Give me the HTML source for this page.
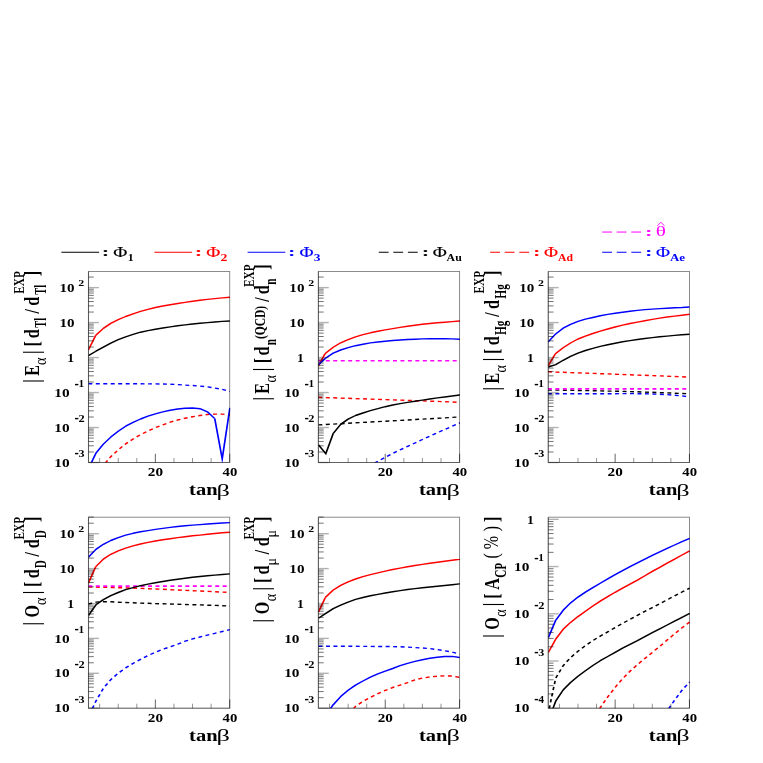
<!DOCTYPE html>
<html><head><meta charset="utf-8"><title>EDM observables vs tan beta</title>
<style>html,body{margin:0;padding:0;background:#fff;}svg{display:block;filter:blur(0.35px);}</style>
</head><body>
<svg width="763" height="763" viewBox="0 0 763 763" font-family="'Liberation Serif', serif">
<rect width="763" height="763" fill="#fff"/>
<clipPath id="c1"><rect x="88.50" y="271.50" width="141.80" height="191.00"/></clipPath>
<g clip-path="url(#c1)"><g transform="scale(1.20 1)">
<path d="M73.62 383.8 L79.94 383.8 L86.14 383.8 L92.33 383.8 L98.52 383.8 L104.71 383.8 L110.91 383.8 L117.10 383.8 L123.29 383.9 L129.49 383.9 L135.68 384.0 L141.87 384.2 L148.07 384.6 L154.26 385.1 L160.45 385.5 L166.64 386.1 L172.84 386.9 L179.03 388.1 L185.22 389.4 L191.57 391.5" fill="none" stroke="#0000ff" stroke-width="1.40" stroke-dasharray="3.3 2.92" stroke-linejoin="round"/>
<path d="M87.71 463.2 L92.33 456.7 L98.52 449.9 L104.71 443.9 L110.91 439.0 L117.10 434.7 L123.29 431.0 L129.49 427.7 L135.68 424.8 L141.87 422.1 L148.07 420.0 L154.26 418.2 L160.45 416.7 L166.64 415.5 L172.84 414.5 L179.03 414.1 L185.22 414.1 L191.57 415.2" fill="none" stroke="#ff0000" stroke-width="1.40" stroke-dasharray="3.3 2.92" stroke-linejoin="round"/>
<path d="M73.62 355.6 L79.94 351.2 L86.14 347.1 L92.33 343.1 L98.52 339.7 L104.71 336.8 L110.91 334.4 L117.10 332.2 L123.29 330.6 L129.49 329.2 L135.68 328.0 L141.87 326.9 L148.07 325.8 L154.26 324.9 L160.45 324.0 L166.64 323.2 L172.84 322.6 L179.03 322.0 L185.22 321.4 L191.57 321.0" fill="none" stroke="#000000" stroke-width="1.40" stroke-linejoin="round"/>
<path d="M73.62 350.1 L79.84 335.3" fill="none" stroke="#ff0000" stroke-width="1.40" stroke-linejoin="miter" stroke-miterlimit="20"/>
<path d="M79.84 335.3 L86.14 328.4 L92.33 323.4 L98.52 319.7 L104.71 316.5 L110.91 313.8 L117.10 311.4 L123.29 309.3 L129.49 307.5 L135.68 306.0 L141.87 304.7 L148.07 303.5 L154.26 302.4 L160.45 301.3 L166.64 300.3 L172.84 299.4 L179.03 298.6 L185.22 297.9 L191.57 297.2" fill="none" stroke="#ff0000" stroke-width="1.40" stroke-linejoin="round"/>
<path d="M75.75 463.6 L79.94 453.2 L86.14 444.1 L92.33 437.1 L98.52 431.2 L104.71 426.2 L110.91 422.4 L117.10 419.0 L123.29 416.1 L129.49 413.8 L135.68 411.9 L141.87 410.3 L148.07 409.0 L154.26 408.2 L160.45 408.0 L166.64 408.7 L172.84 411.8 L178.96 418.6" fill="none" stroke="#0000ff" stroke-width="1.40" stroke-linejoin="round"/>
<path d="M178.96 418.6 L185.18 458.9 L191.57 407.8" fill="none" stroke="#0000ff" stroke-width="1.40" stroke-linejoin="miter" stroke-miterlimit="20"/>
</g></g>
<clipPath id="c2"><rect x="318.38" y="271.50" width="141.80" height="191.00"/></clipPath>
<g clip-path="url(#c2)"><g transform="scale(1.20 1)">
<path d="M265.29 360.7 L383.24 360.7" fill="none" stroke="#ff00ff" stroke-width="1.40" stroke-dasharray="3.3 2.92" stroke-linejoin="miter" stroke-miterlimit="20"/>
<path d="M265.29 397.3 L271.51 397.6 L277.70 397.8 L283.90 398.1 L290.09 398.3 L296.28 398.6 L302.47 398.8 L308.67 399.1 L314.86 399.4 L321.05 399.6 L327.25 399.9 L333.44 400.1 L339.63 400.4 L345.83 400.7 L352.02 400.9 L358.21 401.2 L364.40 401.4 L370.60 401.7 L376.79 402.0 L382.98 402.3 L383.24 402.3" fill="none" stroke="#ff0000" stroke-width="1.40" stroke-dasharray="3.3 2.92" stroke-linejoin="round"/>
<path d="M265.29 424.9 L271.51 424.5 L277.70 424.1 L283.90 423.7 L290.09 423.3 L296.28 422.8 L302.47 422.4 L308.67 422.0 L314.86 421.6 L321.05 421.2 L327.25 420.8 L333.44 420.4 L339.63 420.0 L345.83 419.5 L352.02 419.1 L358.21 418.7 L364.40 418.3 L370.60 417.9 L376.79 417.4 L382.98 417.0 L383.24 417.0" fill="none" stroke="#000000" stroke-width="1.40" stroke-dasharray="3.3 2.92" stroke-linejoin="round"/>
<path d="M312.14 463.2 L314.86 461.4 L321.05 457.3 L327.25 453.5 L333.44 449.8 L339.63 446.4 L345.83 443.0 L352.02 439.5 L358.21 436.1 L364.40 432.8 L370.60 429.5 L376.79 426.3 L382.98 423.0 L383.24 422.9" fill="none" stroke="#0000ff" stroke-width="1.40" stroke-dasharray="3.3 2.92" stroke-linejoin="round"/>
<path d="M265.29 444.7 L271.51 453.6 L277.74 433.3" fill="none" stroke="#000000" stroke-width="1.40" stroke-linejoin="miter" stroke-miterlimit="20"/>
<path d="M277.74 433.3 L283.90 424.4 L290.09 419.1 L296.28 415.5 L302.47 413.0 L308.67 410.7 L314.86 408.7 L321.05 406.7 L327.25 405.0 L333.44 403.6 L339.63 402.4 L345.83 401.2 L352.02 400.1 L358.21 399.0 L364.40 397.9 L370.60 397.0 L376.79 396.0 L382.98 395.0 L383.24 395.0" fill="none" stroke="#000000" stroke-width="1.40" stroke-linejoin="round"/>
<path d="M265.29 366.2 L270.69 354.0" fill="none" stroke="#ff0000" stroke-width="1.40" stroke-linejoin="miter" stroke-miterlimit="20"/>
<path d="M270.69 354.0 L271.51 353.1 L277.70 347.2 L283.90 342.8 L290.09 339.6 L296.28 336.8 L302.47 334.7 L308.67 332.8 L314.86 331.2 L321.05 329.9 L327.25 328.6 L333.44 327.4 L339.63 326.3 L345.83 325.3 L352.02 324.3 L358.21 323.5 L364.40 322.8 L370.60 322.2 L376.79 321.6 L382.98 321.0 L383.24 321.0" fill="none" stroke="#ff0000" stroke-width="1.40" stroke-linejoin="round"/>
<path d="M265.29 364.8 L271.51 358.0 L277.70 353.1 L283.90 350.0 L290.09 347.7 L296.28 345.7 L302.47 344.2 L308.67 342.9 L314.86 342.0 L321.05 341.2 L327.25 340.5 L333.44 340.0 L339.63 339.5 L345.83 339.2 L352.02 338.9 L358.21 338.7 L364.40 338.7 L370.60 338.7 L376.79 338.9 L382.98 339.3 L383.24 339.3" fill="none" stroke="#0000ff" stroke-width="1.40" stroke-linejoin="round"/>
</g></g>
<clipPath id="c3"><rect x="548.26" y="271.50" width="141.80" height="191.00"/></clipPath>
<g clip-path="url(#c3)"><g transform="scale(1.20 1)">
<path d="M456.62 371.8 L456.88 371.8 L463.08 372.1 L469.27 372.3 L475.46 372.6 L481.66 372.9 L487.85 373.1 L494.04 373.4 L500.23 373.7 L506.43 373.9 L512.62 374.2 L518.81 374.5 L525.01 374.8 L531.20 375.1 L537.39 375.3 L543.59 375.6 L549.78 375.9 L555.97 376.2 L562.16 376.5 L568.36 376.8 L574.58 377.1" fill="none" stroke="#ff0000" stroke-width="1.40" stroke-dasharray="3.3 2.92" stroke-linejoin="round"/>
<path d="M456.62 393.8 L456.88 393.8 L463.08 393.8 L469.27 393.8 L475.46 393.8 L481.66 393.8 L487.85 393.8 L494.04 393.8 L500.23 393.8 L506.43 393.8 L512.62 393.7 L518.81 393.6 L525.01 393.6 L531.20 393.7 L537.39 393.8 L543.59 394.0 L549.78 394.3 L555.97 394.6 L562.16 395.2 L568.36 395.9 L574.58 396.9" fill="none" stroke="#0000ff" stroke-width="1.40" stroke-dasharray="3.3 2.92" stroke-linejoin="round"/>
<path d="M456.62 390.1 L456.88 390.1 L463.08 390.1 L469.27 390.2 L475.46 390.3 L481.66 390.5 L487.85 390.6 L494.04 390.7 L500.23 390.9 L506.43 391.1 L512.62 391.2 L518.81 391.4 L525.01 391.6 L531.20 391.8 L537.39 392.1 L543.59 392.3 L549.78 392.6 L555.97 392.9 L562.16 393.2 L568.36 393.5 L574.58 393.8" fill="none" stroke="#000000" stroke-width="1.40" stroke-dasharray="3.3 2.92" stroke-linejoin="round"/>
<path d="M456.62 388.9 L574.58 388.9" fill="none" stroke="#ff00ff" stroke-width="1.70" stroke-dasharray="3.3 2.92" stroke-linejoin="miter" stroke-miterlimit="20"/>
<path d="M456.62 367.2 L456.88 367.1 L463.08 364.6 L469.27 360.3 L475.46 356.4 L481.66 353.2 L487.85 350.5 L494.04 348.3 L500.23 346.4 L506.43 344.7 L512.62 343.2 L518.81 341.8 L525.01 340.6 L531.20 339.5 L537.39 338.5 L543.59 337.6 L549.78 336.8 L555.97 336.1 L562.16 335.4 L568.36 334.8 L574.58 334.2" fill="none" stroke="#000000" stroke-width="1.40" stroke-linejoin="round"/>
<path d="M456.62 366.2 L462.69 354.0" fill="none" stroke="#ff0000" stroke-width="1.40" stroke-linejoin="miter" stroke-miterlimit="20"/>
<path d="M462.69 354.0 L463.08 353.6 L469.27 347.8 L475.46 343.0 L481.66 339.0 L487.85 336.1 L494.04 333.5 L500.23 331.1 L506.43 329.0 L512.62 327.0 L518.81 325.2 L525.01 323.5 L531.20 322.1 L537.39 320.7 L543.59 319.4 L549.78 318.1 L555.97 317.0 L562.16 316.1 L568.36 315.2 L574.58 314.3" fill="none" stroke="#ff0000" stroke-width="1.40" stroke-linejoin="round"/>
<path d="M456.62 342.2 L456.88 341.8 L463.08 333.9 L469.27 328.2 L475.46 324.4 L481.66 321.4 L487.85 319.1 L494.04 317.5 L500.23 315.8 L506.43 314.4 L512.62 313.3 L518.81 312.3 L525.01 311.3 L531.20 310.4 L537.39 309.6 L543.59 309.1 L549.78 308.6 L555.97 308.2 L562.16 307.8 L568.36 307.5 L574.58 307.0" fill="none" stroke="#0000ff" stroke-width="1.40" stroke-linejoin="round"/>
</g></g>
<clipPath id="c4"><rect x="88.50" y="517.20" width="141.80" height="191.00"/></clipPath>
<g clip-path="url(#c4)"><g transform="scale(1.20 1)">
<path d="M73.62 586.9 L79.94 587.1 L86.14 587.3 L92.33 587.5 L98.52 587.7 L104.71 587.9 L110.91 588.1 L117.10 588.4 L123.29 588.7 L129.49 589.0 L135.68 589.3 L141.87 589.7 L148.07 590.0 L154.26 590.4 L160.45 590.7 L166.64 591.0 L172.84 591.4 L179.03 591.7 L185.22 592.1 L191.57 592.4" fill="none" stroke="#ff0000" stroke-width="1.40" stroke-dasharray="3.3 2.92" stroke-linejoin="round"/>
<path d="M73.62 586.2 L191.57 586.2" fill="none" stroke="#ff00ff" stroke-width="1.80" stroke-dasharray="3.3 2.92" stroke-linejoin="miter" stroke-miterlimit="20"/>
<path d="M73.62 604.0 L79.94 602.1 L86.14 601.7 L92.33 601.8 L98.52 602.2 L104.71 602.5 L110.91 602.8 L117.10 603.1 L123.29 603.3 L129.49 603.6 L135.68 603.8 L141.87 604.0 L148.07 604.3 L154.26 604.5 L160.45 604.7 L166.64 604.9 L172.84 605.2 L179.03 605.4 L185.22 605.7 L191.57 606.0" fill="none" stroke="#000000" stroke-width="1.40" stroke-dasharray="3.3 2.92" stroke-linejoin="round"/>
<path d="M77.00 708.6 L79.94 701.1 L86.14 688.3 L92.33 679.7 L98.52 673.2 L104.71 667.9 L110.91 663.4 L117.10 659.3 L123.29 655.6 L129.49 652.3 L135.68 649.3 L141.87 646.8 L148.07 644.2 L154.26 641.2 L160.45 638.9 L166.64 637.0 L172.84 635.1 L179.03 633.3 L185.22 631.5 L191.58 629.6" fill="none" stroke="#0000ff" stroke-width="1.40" stroke-dasharray="3.3 2.92" stroke-linejoin="round"/>
<path d="M73.62 615.7 L79.94 604.8 L86.14 599.6 L92.33 595.6 L98.52 592.5 L104.71 589.7 L110.91 587.7 L117.10 585.7 L123.29 584.1 L129.49 582.7 L135.68 581.5 L141.87 580.3 L148.07 579.2 L154.26 578.2 L160.45 577.3 L166.64 576.5 L172.84 575.8 L179.03 575.1 L185.22 574.5 L191.57 573.9" fill="none" stroke="#000000" stroke-width="1.40" stroke-linejoin="round"/>
<path d="M73.62 583.3 L79.84 566.6" fill="none" stroke="#ff0000" stroke-width="1.40" stroke-linejoin="miter" stroke-miterlimit="20"/>
<path d="M79.84 566.6 L86.14 559.1 L92.33 554.3 L98.52 550.8 L104.71 548.2 L110.91 545.9 L117.10 544.0 L123.29 542.4 L129.49 541.0 L135.68 539.8 L141.87 538.7 L148.07 537.6 L154.26 536.7 L160.45 535.8 L166.64 535.1 L172.84 534.3 L179.03 533.5 L185.22 532.8 L191.57 532.2" fill="none" stroke="#ff0000" stroke-width="1.40" stroke-linejoin="round"/>
<path d="M73.62 557.2 L79.94 549.4 L86.14 544.3 L92.33 540.5 L98.52 537.6 L104.71 535.2 L110.91 533.3 L117.10 531.8 L123.29 530.6 L129.49 529.4 L135.68 528.4 L141.87 527.4 L148.07 526.5 L154.26 525.7 L160.45 525.1 L166.64 524.6 L172.84 524.0 L179.03 523.5 L185.22 523.0 L191.57 522.6" fill="none" stroke="#0000ff" stroke-width="1.40" stroke-linejoin="round"/>
</g></g>
<clipPath id="c5"><rect x="318.38" y="517.20" width="141.80" height="191.00"/></clipPath>
<g clip-path="url(#c5)"><g transform="scale(1.20 1)">
<path d="M265.42 646.2 L271.51 646.2 L277.70 646.2 L283.90 646.3 L290.09 646.3 L296.28 646.3 L302.47 646.4 L308.67 646.4 L314.86 646.5 L321.05 646.5 L327.25 646.6 L333.44 646.8 L339.63 647.1 L345.83 647.6 L352.02 648.0 L358.21 648.6 L364.40 649.6 L370.60 650.8 L376.79 652.1 L383.08 654.2" fill="none" stroke="#0000ff" stroke-width="1.40" stroke-dasharray="3.3 2.92" stroke-linejoin="round"/>
<path d="M294.67 708.6 L296.28 706.3 L302.47 701.4 L308.67 697.4 L314.86 693.6 L321.05 690.4 L327.25 687.5 L333.44 685.1 L339.63 682.7 L345.83 679.8 L352.02 678.1 L358.21 677.0 L364.40 676.2 L370.60 675.9 L376.79 676.0 L383.08 677.4" fill="none" stroke="#ff0000" stroke-width="1.40" stroke-dasharray="3.3 2.92" stroke-linejoin="round"/>
<path d="M275.17 709.0 L277.70 704.7 L283.90 696.6 L290.09 690.3 L296.28 685.1 L302.47 681.0 L308.67 677.2 L314.86 673.9 L321.05 671.1 L327.25 668.5 L333.44 665.7 L339.63 663.3 L345.83 661.4 L352.02 659.7 L358.21 658.3 L364.40 657.2 L370.60 656.5 L376.79 656.4 L383.08 657.5" fill="none" stroke="#0000ff" stroke-width="1.40" stroke-linejoin="round"/>
<path d="M265.29 618.3 L271.51 613.4 L277.70 608.6 L283.90 605.1 L290.09 602.1 L296.28 599.4 L302.47 597.5 L308.67 595.8 L314.86 594.4 L321.05 593.0 L327.25 591.7 L333.44 590.6 L339.63 589.5 L345.83 588.6 L352.02 587.8 L358.21 587.0 L364.40 586.2 L370.60 585.5 L376.79 584.7 L382.98 583.9 L383.24 583.9" fill="none" stroke="#000000" stroke-width="1.40" stroke-linejoin="round"/>
<path d="M265.29 612.2 L271.02 597.7" fill="none" stroke="#ff0000" stroke-width="1.40" stroke-linejoin="miter" stroke-miterlimit="20"/>
<path d="M271.02 597.7 L271.51 597.0 L277.70 590.0 L283.90 585.4 L290.09 581.8 L296.28 579.0 L302.47 576.6 L308.67 574.6 L314.86 572.8 L321.05 571.1 L327.25 569.5 L333.44 568.1 L339.63 566.8 L345.83 565.5 L352.02 564.4 L358.21 563.3 L364.40 562.2 L370.60 561.2 L376.79 560.2 L382.98 559.2 L383.24 559.1" fill="none" stroke="#ff0000" stroke-width="1.40" stroke-linejoin="round"/>
</g></g>
<clipPath id="c6"><rect x="548.26" y="517.20" width="141.80" height="191.00"/></clipPath>
<g clip-path="url(#c6)"><g transform="scale(1.20 1)">
<path d="M557.25 708.6 L562.16 700.2 L568.36 690.2 L574.75 681.9" fill="none" stroke="#0000ff" stroke-width="1.40" stroke-dasharray="3.3 2.92" stroke-linejoin="round"/>
<path d="M499.67 708.6 L500.23 707.6 L506.43 696.9 L512.62 687.3 L518.81 678.7 L525.01 671.3 L531.20 664.6 L537.39 658.5 L543.59 652.4 L549.78 646.4 L555.97 640.1 L562.16 633.8 L568.36 627.8 L574.75 621.9" fill="none" stroke="#ff0000" stroke-width="1.40" stroke-dasharray="3.3 2.92" stroke-linejoin="round"/>
<path d="M457.67 708.6 L463.08 678.2 L469.27 665.7 L475.46 657.6 L481.66 651.2 L487.85 645.6 L494.04 640.6 L500.23 636.1 L506.43 631.9 L512.62 627.6 L518.81 623.4 L525.01 619.3 L531.20 615.3 L537.39 611.4 L543.59 607.6 L549.78 603.7 L555.97 599.8 L562.16 595.9 L568.36 592.0 L574.75 588.1" fill="none" stroke="#000000" stroke-width="1.40" stroke-dasharray="3.3 2.92" stroke-linejoin="round"/>
<path d="M460.75 708.6 L463.08 701.2 L469.27 690.0 L475.46 682.5 L481.66 676.3 L487.85 670.7 L494.04 665.5 L500.23 660.7 L506.43 656.5 L512.62 652.3 L518.81 648.1 L525.01 644.4 L531.20 640.6 L537.39 636.6 L543.59 632.7 L549.78 628.9 L555.97 625.0 L562.16 621.2 L568.36 617.3 L574.75 613.4" fill="none" stroke="#000000" stroke-width="1.40" stroke-linejoin="round"/>
<path d="M456.92 652.5 L463.08 639.2 L469.27 629.3 L475.46 622.4 L481.66 616.6 L487.85 611.3 L494.04 606.0 L500.23 601.1 L506.43 596.6 L512.62 592.3 L518.81 588.2 L525.01 584.1 L531.20 580.1 L537.39 575.7 L543.59 571.4 L549.78 567.3 L555.97 563.2 L562.16 559.2 L568.36 555.0 L574.75 550.8" fill="none" stroke="#ff0000" stroke-width="1.40" stroke-linejoin="round"/>
<path d="M456.92 637.7 L463.08 620.3 L469.27 610.3 L475.46 602.9 L481.66 597.1 L487.85 592.1 L494.04 587.6 L500.23 583.3 L506.43 578.9 L512.62 574.7 L518.81 570.6 L525.01 566.6 L531.20 562.8 L537.39 559.1 L543.59 555.4 L549.78 551.9 L555.97 548.4 L562.16 545.0 L568.36 541.7 L574.75 538.3" fill="none" stroke="#0000ff" stroke-width="1.40" stroke-linejoin="round"/>
</g></g>
<rect x="88.50" y="271.50" width="141.20" height="191.00" fill="none" stroke="#000" stroke-opacity="0.5" stroke-width="0.9"/>
<path d="M88.50 271.50 V462.50" fill="none" stroke="#000" stroke-opacity="0.35" stroke-width="1.15"/>
<path d="M88.50 462.50 H229.70" fill="none" stroke="#000" stroke-opacity="0.3" stroke-width="1.0"/>
<path d="M99.65 458.00 V462.50" stroke="#000" stroke-opacity="0.42" stroke-width="1.00" fill="none"/>
<path d="M118.23 458.00 V462.50" stroke="#000" stroke-opacity="0.42" stroke-width="1.00" fill="none"/>
<path d="M136.81 458.00 V462.50" stroke="#000" stroke-opacity="0.42" stroke-width="1.00" fill="none"/>
<path d="M155.38 453.70 V462.50" stroke="#000" stroke-opacity="0.55" stroke-width="1.10" fill="none"/>
<path d="M173.96 458.00 V462.50" stroke="#000" stroke-opacity="0.42" stroke-width="1.00" fill="none"/>
<path d="M192.54 458.00 V462.50" stroke="#000" stroke-opacity="0.42" stroke-width="1.00" fill="none"/>
<path d="M211.12 458.00 V462.50" stroke="#000" stroke-opacity="0.42" stroke-width="1.00" fill="none"/>
<path d="M229.70 453.70 V462.50" stroke="#000" stroke-opacity="0.55" stroke-width="1.10" fill="none"/>
<path d="M88.50 462.50 H98.90" stroke="#000" stroke-opacity="0.30" stroke-width="1.40" fill="none"/>
<path d="M88.50 451.97 H93.80" stroke="#000" stroke-opacity="0.55" stroke-width="1.00" fill="none"/>
<path d="M88.50 445.81 H93.80" stroke="#000" stroke-opacity="0.55" stroke-width="1.00" fill="none"/>
<path d="M88.50 441.44 H93.80" stroke="#000" stroke-opacity="0.55" stroke-width="1.00" fill="none"/>
<path d="M88.50 438.05 H93.80" stroke="#000" stroke-opacity="0.55" stroke-width="1.00" fill="none"/>
<path d="M88.50 435.28 H93.80" stroke="#000" stroke-opacity="0.55" stroke-width="1.00" fill="none"/>
<path d="M88.50 432.94 H93.80" stroke="#000" stroke-opacity="0.55" stroke-width="1.00" fill="none"/>
<path d="M88.50 430.91 H93.80" stroke="#000" stroke-opacity="0.55" stroke-width="1.00" fill="none"/>
<path d="M88.50 429.12 H93.80" stroke="#000" stroke-opacity="0.55" stroke-width="1.00" fill="none"/>
<path d="M88.50 427.52 H98.90" stroke="#000" stroke-opacity="0.30" stroke-width="1.40" fill="none"/>
<path d="M88.50 416.99 H93.80" stroke="#000" stroke-opacity="0.55" stroke-width="1.00" fill="none"/>
<path d="M88.50 410.83 H93.80" stroke="#000" stroke-opacity="0.55" stroke-width="1.00" fill="none"/>
<path d="M88.50 406.46 H93.80" stroke="#000" stroke-opacity="0.55" stroke-width="1.00" fill="none"/>
<path d="M88.50 403.07 H93.80" stroke="#000" stroke-opacity="0.55" stroke-width="1.00" fill="none"/>
<path d="M88.50 400.30 H93.80" stroke="#000" stroke-opacity="0.55" stroke-width="1.00" fill="none"/>
<path d="M88.50 397.96 H93.80" stroke="#000" stroke-opacity="0.55" stroke-width="1.00" fill="none"/>
<path d="M88.50 395.93 H93.80" stroke="#000" stroke-opacity="0.55" stroke-width="1.00" fill="none"/>
<path d="M88.50 394.14 H93.80" stroke="#000" stroke-opacity="0.55" stroke-width="1.00" fill="none"/>
<path d="M88.50 392.54 H98.90" stroke="#000" stroke-opacity="0.30" stroke-width="1.40" fill="none"/>
<path d="M88.50 382.01 H93.80" stroke="#000" stroke-opacity="0.55" stroke-width="1.00" fill="none"/>
<path d="M88.50 375.85 H93.80" stroke="#000" stroke-opacity="0.55" stroke-width="1.00" fill="none"/>
<path d="M88.50 371.48 H93.80" stroke="#000" stroke-opacity="0.55" stroke-width="1.00" fill="none"/>
<path d="M88.50 368.09 H93.80" stroke="#000" stroke-opacity="0.55" stroke-width="1.00" fill="none"/>
<path d="M88.50 365.32 H93.80" stroke="#000" stroke-opacity="0.55" stroke-width="1.00" fill="none"/>
<path d="M88.50 362.98 H93.80" stroke="#000" stroke-opacity="0.55" stroke-width="1.00" fill="none"/>
<path d="M88.50 360.95 H93.80" stroke="#000" stroke-opacity="0.55" stroke-width="1.00" fill="none"/>
<path d="M88.50 359.16 H93.80" stroke="#000" stroke-opacity="0.55" stroke-width="1.00" fill="none"/>
<path d="M88.50 357.56 H98.90" stroke="#000" stroke-opacity="0.30" stroke-width="1.40" fill="none"/>
<path d="M88.50 347.03 H93.80" stroke="#000" stroke-opacity="0.55" stroke-width="1.00" fill="none"/>
<path d="M88.50 340.87 H93.80" stroke="#000" stroke-opacity="0.55" stroke-width="1.00" fill="none"/>
<path d="M88.50 336.50 H93.80" stroke="#000" stroke-opacity="0.55" stroke-width="1.00" fill="none"/>
<path d="M88.50 333.11 H93.80" stroke="#000" stroke-opacity="0.55" stroke-width="1.00" fill="none"/>
<path d="M88.50 330.34 H93.80" stroke="#000" stroke-opacity="0.55" stroke-width="1.00" fill="none"/>
<path d="M88.50 328.00 H93.80" stroke="#000" stroke-opacity="0.55" stroke-width="1.00" fill="none"/>
<path d="M88.50 325.97 H93.80" stroke="#000" stroke-opacity="0.55" stroke-width="1.00" fill="none"/>
<path d="M88.50 324.18 H93.80" stroke="#000" stroke-opacity="0.55" stroke-width="1.00" fill="none"/>
<path d="M88.50 322.58 H98.90" stroke="#000" stroke-opacity="0.30" stroke-width="1.40" fill="none"/>
<path d="M88.50 312.05 H93.80" stroke="#000" stroke-opacity="0.55" stroke-width="1.00" fill="none"/>
<path d="M88.50 305.89 H93.80" stroke="#000" stroke-opacity="0.55" stroke-width="1.00" fill="none"/>
<path d="M88.50 301.52 H93.80" stroke="#000" stroke-opacity="0.55" stroke-width="1.00" fill="none"/>
<path d="M88.50 298.13 H93.80" stroke="#000" stroke-opacity="0.55" stroke-width="1.00" fill="none"/>
<path d="M88.50 295.36 H93.80" stroke="#000" stroke-opacity="0.55" stroke-width="1.00" fill="none"/>
<path d="M88.50 293.02 H93.80" stroke="#000" stroke-opacity="0.55" stroke-width="1.00" fill="none"/>
<path d="M88.50 290.99 H93.80" stroke="#000" stroke-opacity="0.55" stroke-width="1.00" fill="none"/>
<path d="M88.50 289.20 H93.80" stroke="#000" stroke-opacity="0.55" stroke-width="1.00" fill="none"/>
<path d="M88.50 287.60 H98.90" stroke="#000" stroke-opacity="0.30" stroke-width="1.40" fill="none"/>
<path d="M88.50 277.07 H93.80" stroke="#000" stroke-opacity="0.55" stroke-width="1.00" fill="none"/>
<text transform="translate(147.78 476.08) scale(0.1522 0.1209)" font-size="100" font-weight="bold" fill="#000">20</text>
<text transform="translate(222.55 476.08) scale(0.1474 0.1209)" font-size="100" font-weight="bold" fill="#000">40</text>
<text transform="translate(189.09 495.33) scale(0.2052 0.1702)" font-size="100" font-weight="bold" fill="#000">tan</text>
<text transform="translate(216.52 495.50) scale(0.2634 0.1714)" font-size="100"  fill="#000">β</text>
<text transform="translate(59.49 291.82) scale(0.1511 0.1254)" font-size="100" font-weight="bold" fill="#000">10</text>
<text transform="translate(78.32 285.75) scale(0.1190 0.0909)" font-size="100" font-weight="bold" fill="#000">2</text>
<text transform="translate(59.49 326.80) scale(0.1511 0.1254)" font-size="100" font-weight="bold" fill="#000">10</text>
<text transform="translate(67.20 361.71) scale(0.1378 0.1246)" font-size="100" font-weight="bold" fill="#000">1</text>
<text transform="translate(54.27 396.72) scale(0.1534 0.1239)" font-size="100" font-weight="bold" fill="#000">10</text>
<text transform="translate(74.58 388.51) scale(0.1308 0.1667)" font-size="100" font-weight="bold" fill="#000">-</text>
<text transform="translate(78.59 387.44) scale(0.1135 0.0985)" font-size="100" font-weight="bold" fill="#000">1</text>
<text transform="translate(54.27 431.70) scale(0.1534 0.1239)" font-size="100" font-weight="bold" fill="#000">10</text>
<text transform="translate(74.58 423.49) scale(0.1308 0.1667)" font-size="100" font-weight="bold" fill="#000">-</text>
<text transform="translate(78.40 422.42) scale(0.1238 0.0970)" font-size="100" font-weight="bold" fill="#000">2</text>
<text transform="translate(54.27 466.68) scale(0.1534 0.1239)" font-size="100" font-weight="bold" fill="#000">10</text>
<text transform="translate(74.58 458.47) scale(0.1308 0.1667)" font-size="100" font-weight="bold" fill="#000">-</text>
<text transform="translate(78.42 457.30) scale(0.1209 0.0955)" font-size="100" font-weight="bold" fill="#000">3</text>
<rect x="318.38" y="271.50" width="141.20" height="191.00" fill="none" stroke="#000" stroke-opacity="0.5" stroke-width="0.9"/>
<path d="M318.38 271.50 V462.50" fill="none" stroke="#000" stroke-opacity="0.35" stroke-width="1.15"/>
<path d="M318.38 462.50 H459.58" fill="none" stroke="#000" stroke-opacity="0.3" stroke-width="1.0"/>
<path d="M329.53 458.00 V462.50" stroke="#000" stroke-opacity="0.42" stroke-width="1.00" fill="none"/>
<path d="M348.11 458.00 V462.50" stroke="#000" stroke-opacity="0.42" stroke-width="1.00" fill="none"/>
<path d="M366.69 458.00 V462.50" stroke="#000" stroke-opacity="0.42" stroke-width="1.00" fill="none"/>
<path d="M385.26 453.70 V462.50" stroke="#000" stroke-opacity="0.55" stroke-width="1.10" fill="none"/>
<path d="M403.84 458.00 V462.50" stroke="#000" stroke-opacity="0.42" stroke-width="1.00" fill="none"/>
<path d="M422.42 458.00 V462.50" stroke="#000" stroke-opacity="0.42" stroke-width="1.00" fill="none"/>
<path d="M441.00 458.00 V462.50" stroke="#000" stroke-opacity="0.42" stroke-width="1.00" fill="none"/>
<path d="M459.58 453.70 V462.50" stroke="#000" stroke-opacity="0.55" stroke-width="1.10" fill="none"/>
<path d="M318.38 462.50 H328.78" stroke="#000" stroke-opacity="0.30" stroke-width="1.40" fill="none"/>
<path d="M318.38 451.97 H323.68" stroke="#000" stroke-opacity="0.55" stroke-width="1.00" fill="none"/>
<path d="M318.38 445.81 H323.68" stroke="#000" stroke-opacity="0.55" stroke-width="1.00" fill="none"/>
<path d="M318.38 441.44 H323.68" stroke="#000" stroke-opacity="0.55" stroke-width="1.00" fill="none"/>
<path d="M318.38 438.05 H323.68" stroke="#000" stroke-opacity="0.55" stroke-width="1.00" fill="none"/>
<path d="M318.38 435.28 H323.68" stroke="#000" stroke-opacity="0.55" stroke-width="1.00" fill="none"/>
<path d="M318.38 432.94 H323.68" stroke="#000" stroke-opacity="0.55" stroke-width="1.00" fill="none"/>
<path d="M318.38 430.91 H323.68" stroke="#000" stroke-opacity="0.55" stroke-width="1.00" fill="none"/>
<path d="M318.38 429.12 H323.68" stroke="#000" stroke-opacity="0.55" stroke-width="1.00" fill="none"/>
<path d="M318.38 427.52 H328.78" stroke="#000" stroke-opacity="0.30" stroke-width="1.40" fill="none"/>
<path d="M318.38 416.99 H323.68" stroke="#000" stroke-opacity="0.55" stroke-width="1.00" fill="none"/>
<path d="M318.38 410.83 H323.68" stroke="#000" stroke-opacity="0.55" stroke-width="1.00" fill="none"/>
<path d="M318.38 406.46 H323.68" stroke="#000" stroke-opacity="0.55" stroke-width="1.00" fill="none"/>
<path d="M318.38 403.07 H323.68" stroke="#000" stroke-opacity="0.55" stroke-width="1.00" fill="none"/>
<path d="M318.38 400.30 H323.68" stroke="#000" stroke-opacity="0.55" stroke-width="1.00" fill="none"/>
<path d="M318.38 397.96 H323.68" stroke="#000" stroke-opacity="0.55" stroke-width="1.00" fill="none"/>
<path d="M318.38 395.93 H323.68" stroke="#000" stroke-opacity="0.55" stroke-width="1.00" fill="none"/>
<path d="M318.38 394.14 H323.68" stroke="#000" stroke-opacity="0.55" stroke-width="1.00" fill="none"/>
<path d="M318.38 392.54 H328.78" stroke="#000" stroke-opacity="0.30" stroke-width="1.40" fill="none"/>
<path d="M318.38 382.01 H323.68" stroke="#000" stroke-opacity="0.55" stroke-width="1.00" fill="none"/>
<path d="M318.38 375.85 H323.68" stroke="#000" stroke-opacity="0.55" stroke-width="1.00" fill="none"/>
<path d="M318.38 371.48 H323.68" stroke="#000" stroke-opacity="0.55" stroke-width="1.00" fill="none"/>
<path d="M318.38 368.09 H323.68" stroke="#000" stroke-opacity="0.55" stroke-width="1.00" fill="none"/>
<path d="M318.38 365.32 H323.68" stroke="#000" stroke-opacity="0.55" stroke-width="1.00" fill="none"/>
<path d="M318.38 362.98 H323.68" stroke="#000" stroke-opacity="0.55" stroke-width="1.00" fill="none"/>
<path d="M318.38 360.95 H323.68" stroke="#000" stroke-opacity="0.55" stroke-width="1.00" fill="none"/>
<path d="M318.38 359.16 H323.68" stroke="#000" stroke-opacity="0.55" stroke-width="1.00" fill="none"/>
<path d="M318.38 357.56 H328.78" stroke="#000" stroke-opacity="0.30" stroke-width="1.40" fill="none"/>
<path d="M318.38 347.03 H323.68" stroke="#000" stroke-opacity="0.55" stroke-width="1.00" fill="none"/>
<path d="M318.38 340.87 H323.68" stroke="#000" stroke-opacity="0.55" stroke-width="1.00" fill="none"/>
<path d="M318.38 336.50 H323.68" stroke="#000" stroke-opacity="0.55" stroke-width="1.00" fill="none"/>
<path d="M318.38 333.11 H323.68" stroke="#000" stroke-opacity="0.55" stroke-width="1.00" fill="none"/>
<path d="M318.38 330.34 H323.68" stroke="#000" stroke-opacity="0.55" stroke-width="1.00" fill="none"/>
<path d="M318.38 328.00 H323.68" stroke="#000" stroke-opacity="0.55" stroke-width="1.00" fill="none"/>
<path d="M318.38 325.97 H323.68" stroke="#000" stroke-opacity="0.55" stroke-width="1.00" fill="none"/>
<path d="M318.38 324.18 H323.68" stroke="#000" stroke-opacity="0.55" stroke-width="1.00" fill="none"/>
<path d="M318.38 322.58 H328.78" stroke="#000" stroke-opacity="0.30" stroke-width="1.40" fill="none"/>
<path d="M318.38 312.05 H323.68" stroke="#000" stroke-opacity="0.55" stroke-width="1.00" fill="none"/>
<path d="M318.38 305.89 H323.68" stroke="#000" stroke-opacity="0.55" stroke-width="1.00" fill="none"/>
<path d="M318.38 301.52 H323.68" stroke="#000" stroke-opacity="0.55" stroke-width="1.00" fill="none"/>
<path d="M318.38 298.13 H323.68" stroke="#000" stroke-opacity="0.55" stroke-width="1.00" fill="none"/>
<path d="M318.38 295.36 H323.68" stroke="#000" stroke-opacity="0.55" stroke-width="1.00" fill="none"/>
<path d="M318.38 293.02 H323.68" stroke="#000" stroke-opacity="0.55" stroke-width="1.00" fill="none"/>
<path d="M318.38 290.99 H323.68" stroke="#000" stroke-opacity="0.55" stroke-width="1.00" fill="none"/>
<path d="M318.38 289.20 H323.68" stroke="#000" stroke-opacity="0.55" stroke-width="1.00" fill="none"/>
<path d="M318.38 287.60 H328.78" stroke="#000" stroke-opacity="0.30" stroke-width="1.40" fill="none"/>
<path d="M318.38 277.07 H323.68" stroke="#000" stroke-opacity="0.55" stroke-width="1.00" fill="none"/>
<text transform="translate(377.66 476.08) scale(0.1522 0.1209)" font-size="100" font-weight="bold" fill="#000">20</text>
<text transform="translate(452.43 476.08) scale(0.1474 0.1209)" font-size="100" font-weight="bold" fill="#000">40</text>
<text transform="translate(418.97 495.33) scale(0.2052 0.1702)" font-size="100" font-weight="bold" fill="#000">tan</text>
<text transform="translate(446.40 495.50) scale(0.2634 0.1714)" font-size="100"  fill="#000">β</text>
<text transform="translate(289.37 291.82) scale(0.1511 0.1254)" font-size="100" font-weight="bold" fill="#000">10</text>
<text transform="translate(308.20 285.75) scale(0.1190 0.0909)" font-size="100" font-weight="bold" fill="#000">2</text>
<text transform="translate(289.37 326.80) scale(0.1511 0.1254)" font-size="100" font-weight="bold" fill="#000">10</text>
<text transform="translate(297.08 361.71) scale(0.1378 0.1246)" font-size="100" font-weight="bold" fill="#000">1</text>
<text transform="translate(284.15 396.72) scale(0.1534 0.1239)" font-size="100" font-weight="bold" fill="#000">10</text>
<text transform="translate(304.46 388.51) scale(0.1308 0.1667)" font-size="100" font-weight="bold" fill="#000">-</text>
<text transform="translate(308.47 387.44) scale(0.1135 0.0985)" font-size="100" font-weight="bold" fill="#000">1</text>
<text transform="translate(284.15 431.70) scale(0.1534 0.1239)" font-size="100" font-weight="bold" fill="#000">10</text>
<text transform="translate(304.46 423.49) scale(0.1308 0.1667)" font-size="100" font-weight="bold" fill="#000">-</text>
<text transform="translate(308.28 422.42) scale(0.1238 0.0970)" font-size="100" font-weight="bold" fill="#000">2</text>
<text transform="translate(284.15 466.68) scale(0.1534 0.1239)" font-size="100" font-weight="bold" fill="#000">10</text>
<text transform="translate(304.46 458.47) scale(0.1308 0.1667)" font-size="100" font-weight="bold" fill="#000">-</text>
<text transform="translate(308.30 457.30) scale(0.1209 0.0955)" font-size="100" font-weight="bold" fill="#000">3</text>
<rect x="548.26" y="271.50" width="141.20" height="191.00" fill="none" stroke="#000" stroke-opacity="0.5" stroke-width="0.9"/>
<path d="M548.26 271.50 V462.50" fill="none" stroke="#000" stroke-opacity="0.35" stroke-width="1.15"/>
<path d="M548.26 462.50 H689.46" fill="none" stroke="#000" stroke-opacity="0.3" stroke-width="1.0"/>
<path d="M559.41 458.00 V462.50" stroke="#000" stroke-opacity="0.42" stroke-width="1.00" fill="none"/>
<path d="M577.99 458.00 V462.50" stroke="#000" stroke-opacity="0.42" stroke-width="1.00" fill="none"/>
<path d="M596.57 458.00 V462.50" stroke="#000" stroke-opacity="0.42" stroke-width="1.00" fill="none"/>
<path d="M615.14 453.70 V462.50" stroke="#000" stroke-opacity="0.55" stroke-width="1.10" fill="none"/>
<path d="M633.72 458.00 V462.50" stroke="#000" stroke-opacity="0.42" stroke-width="1.00" fill="none"/>
<path d="M652.30 458.00 V462.50" stroke="#000" stroke-opacity="0.42" stroke-width="1.00" fill="none"/>
<path d="M670.88 458.00 V462.50" stroke="#000" stroke-opacity="0.42" stroke-width="1.00" fill="none"/>
<path d="M689.46 453.70 V462.50" stroke="#000" stroke-opacity="0.55" stroke-width="1.10" fill="none"/>
<path d="M548.26 462.50 H558.66" stroke="#000" stroke-opacity="0.30" stroke-width="1.40" fill="none"/>
<path d="M548.26 451.97 H553.56" stroke="#000" stroke-opacity="0.55" stroke-width="1.00" fill="none"/>
<path d="M548.26 445.81 H553.56" stroke="#000" stroke-opacity="0.55" stroke-width="1.00" fill="none"/>
<path d="M548.26 441.44 H553.56" stroke="#000" stroke-opacity="0.55" stroke-width="1.00" fill="none"/>
<path d="M548.26 438.05 H553.56" stroke="#000" stroke-opacity="0.55" stroke-width="1.00" fill="none"/>
<path d="M548.26 435.28 H553.56" stroke="#000" stroke-opacity="0.55" stroke-width="1.00" fill="none"/>
<path d="M548.26 432.94 H553.56" stroke="#000" stroke-opacity="0.55" stroke-width="1.00" fill="none"/>
<path d="M548.26 430.91 H553.56" stroke="#000" stroke-opacity="0.55" stroke-width="1.00" fill="none"/>
<path d="M548.26 429.12 H553.56" stroke="#000" stroke-opacity="0.55" stroke-width="1.00" fill="none"/>
<path d="M548.26 427.52 H558.66" stroke="#000" stroke-opacity="0.30" stroke-width="1.40" fill="none"/>
<path d="M548.26 416.99 H553.56" stroke="#000" stroke-opacity="0.55" stroke-width="1.00" fill="none"/>
<path d="M548.26 410.83 H553.56" stroke="#000" stroke-opacity="0.55" stroke-width="1.00" fill="none"/>
<path d="M548.26 406.46 H553.56" stroke="#000" stroke-opacity="0.55" stroke-width="1.00" fill="none"/>
<path d="M548.26 403.07 H553.56" stroke="#000" stroke-opacity="0.55" stroke-width="1.00" fill="none"/>
<path d="M548.26 400.30 H553.56" stroke="#000" stroke-opacity="0.55" stroke-width="1.00" fill="none"/>
<path d="M548.26 397.96 H553.56" stroke="#000" stroke-opacity="0.55" stroke-width="1.00" fill="none"/>
<path d="M548.26 395.93 H553.56" stroke="#000" stroke-opacity="0.55" stroke-width="1.00" fill="none"/>
<path d="M548.26 394.14 H553.56" stroke="#000" stroke-opacity="0.55" stroke-width="1.00" fill="none"/>
<path d="M548.26 392.54 H558.66" stroke="#000" stroke-opacity="0.30" stroke-width="1.40" fill="none"/>
<path d="M548.26 382.01 H553.56" stroke="#000" stroke-opacity="0.55" stroke-width="1.00" fill="none"/>
<path d="M548.26 375.85 H553.56" stroke="#000" stroke-opacity="0.55" stroke-width="1.00" fill="none"/>
<path d="M548.26 371.48 H553.56" stroke="#000" stroke-opacity="0.55" stroke-width="1.00" fill="none"/>
<path d="M548.26 368.09 H553.56" stroke="#000" stroke-opacity="0.55" stroke-width="1.00" fill="none"/>
<path d="M548.26 365.32 H553.56" stroke="#000" stroke-opacity="0.55" stroke-width="1.00" fill="none"/>
<path d="M548.26 362.98 H553.56" stroke="#000" stroke-opacity="0.55" stroke-width="1.00" fill="none"/>
<path d="M548.26 360.95 H553.56" stroke="#000" stroke-opacity="0.55" stroke-width="1.00" fill="none"/>
<path d="M548.26 359.16 H553.56" stroke="#000" stroke-opacity="0.55" stroke-width="1.00" fill="none"/>
<path d="M548.26 357.56 H558.66" stroke="#000" stroke-opacity="0.30" stroke-width="1.40" fill="none"/>
<path d="M548.26 347.03 H553.56" stroke="#000" stroke-opacity="0.55" stroke-width="1.00" fill="none"/>
<path d="M548.26 340.87 H553.56" stroke="#000" stroke-opacity="0.55" stroke-width="1.00" fill="none"/>
<path d="M548.26 336.50 H553.56" stroke="#000" stroke-opacity="0.55" stroke-width="1.00" fill="none"/>
<path d="M548.26 333.11 H553.56" stroke="#000" stroke-opacity="0.55" stroke-width="1.00" fill="none"/>
<path d="M548.26 330.34 H553.56" stroke="#000" stroke-opacity="0.55" stroke-width="1.00" fill="none"/>
<path d="M548.26 328.00 H553.56" stroke="#000" stroke-opacity="0.55" stroke-width="1.00" fill="none"/>
<path d="M548.26 325.97 H553.56" stroke="#000" stroke-opacity="0.55" stroke-width="1.00" fill="none"/>
<path d="M548.26 324.18 H553.56" stroke="#000" stroke-opacity="0.55" stroke-width="1.00" fill="none"/>
<path d="M548.26 322.58 H558.66" stroke="#000" stroke-opacity="0.30" stroke-width="1.40" fill="none"/>
<path d="M548.26 312.05 H553.56" stroke="#000" stroke-opacity="0.55" stroke-width="1.00" fill="none"/>
<path d="M548.26 305.89 H553.56" stroke="#000" stroke-opacity="0.55" stroke-width="1.00" fill="none"/>
<path d="M548.26 301.52 H553.56" stroke="#000" stroke-opacity="0.55" stroke-width="1.00" fill="none"/>
<path d="M548.26 298.13 H553.56" stroke="#000" stroke-opacity="0.55" stroke-width="1.00" fill="none"/>
<path d="M548.26 295.36 H553.56" stroke="#000" stroke-opacity="0.55" stroke-width="1.00" fill="none"/>
<path d="M548.26 293.02 H553.56" stroke="#000" stroke-opacity="0.55" stroke-width="1.00" fill="none"/>
<path d="M548.26 290.99 H553.56" stroke="#000" stroke-opacity="0.55" stroke-width="1.00" fill="none"/>
<path d="M548.26 289.20 H553.56" stroke="#000" stroke-opacity="0.55" stroke-width="1.00" fill="none"/>
<path d="M548.26 287.60 H558.66" stroke="#000" stroke-opacity="0.30" stroke-width="1.40" fill="none"/>
<path d="M548.26 277.07 H553.56" stroke="#000" stroke-opacity="0.55" stroke-width="1.00" fill="none"/>
<text transform="translate(607.54 476.08) scale(0.1522 0.1209)" font-size="100" font-weight="bold" fill="#000">20</text>
<text transform="translate(682.31 476.08) scale(0.1474 0.1209)" font-size="100" font-weight="bold" fill="#000">40</text>
<text transform="translate(648.85 495.33) scale(0.2052 0.1702)" font-size="100" font-weight="bold" fill="#000">tan</text>
<text transform="translate(676.28 495.50) scale(0.2634 0.1714)" font-size="100"  fill="#000">β</text>
<text transform="translate(519.25 291.82) scale(0.1511 0.1254)" font-size="100" font-weight="bold" fill="#000">10</text>
<text transform="translate(538.08 285.75) scale(0.1190 0.0909)" font-size="100" font-weight="bold" fill="#000">2</text>
<text transform="translate(519.25 326.80) scale(0.1511 0.1254)" font-size="100" font-weight="bold" fill="#000">10</text>
<text transform="translate(526.96 361.71) scale(0.1378 0.1246)" font-size="100" font-weight="bold" fill="#000">1</text>
<text transform="translate(514.03 396.72) scale(0.1534 0.1239)" font-size="100" font-weight="bold" fill="#000">10</text>
<text transform="translate(534.34 388.51) scale(0.1308 0.1667)" font-size="100" font-weight="bold" fill="#000">-</text>
<text transform="translate(538.35 387.44) scale(0.1135 0.0985)" font-size="100" font-weight="bold" fill="#000">1</text>
<text transform="translate(514.03 431.70) scale(0.1534 0.1239)" font-size="100" font-weight="bold" fill="#000">10</text>
<text transform="translate(534.34 423.49) scale(0.1308 0.1667)" font-size="100" font-weight="bold" fill="#000">-</text>
<text transform="translate(538.16 422.42) scale(0.1238 0.0970)" font-size="100" font-weight="bold" fill="#000">2</text>
<text transform="translate(514.03 466.68) scale(0.1534 0.1239)" font-size="100" font-weight="bold" fill="#000">10</text>
<text transform="translate(534.34 458.47) scale(0.1308 0.1667)" font-size="100" font-weight="bold" fill="#000">-</text>
<text transform="translate(538.18 457.30) scale(0.1209 0.0955)" font-size="100" font-weight="bold" fill="#000">3</text>
<rect x="88.50" y="517.20" width="141.20" height="191.00" fill="none" stroke="#000" stroke-opacity="0.5" stroke-width="0.9"/>
<path d="M88.50 517.20 V708.20" fill="none" stroke="#000" stroke-opacity="0.35" stroke-width="1.15"/>
<path d="M88.50 708.20 H229.70" fill="none" stroke="#000" stroke-opacity="0.3" stroke-width="1.0"/>
<path d="M99.65 703.70 V708.20" stroke="#000" stroke-opacity="0.42" stroke-width="1.00" fill="none"/>
<path d="M118.23 703.70 V708.20" stroke="#000" stroke-opacity="0.42" stroke-width="1.00" fill="none"/>
<path d="M136.81 703.70 V708.20" stroke="#000" stroke-opacity="0.42" stroke-width="1.00" fill="none"/>
<path d="M155.38 699.40 V708.20" stroke="#000" stroke-opacity="0.55" stroke-width="1.10" fill="none"/>
<path d="M173.96 703.70 V708.20" stroke="#000" stroke-opacity="0.42" stroke-width="1.00" fill="none"/>
<path d="M192.54 703.70 V708.20" stroke="#000" stroke-opacity="0.42" stroke-width="1.00" fill="none"/>
<path d="M211.12 703.70 V708.20" stroke="#000" stroke-opacity="0.42" stroke-width="1.00" fill="none"/>
<path d="M229.70 699.40 V708.20" stroke="#000" stroke-opacity="0.55" stroke-width="1.10" fill="none"/>
<path d="M88.50 708.20 H98.90" stroke="#000" stroke-opacity="0.30" stroke-width="1.40" fill="none"/>
<path d="M88.50 697.69 H93.80" stroke="#000" stroke-opacity="0.55" stroke-width="1.00" fill="none"/>
<path d="M88.50 691.55 H93.80" stroke="#000" stroke-opacity="0.55" stroke-width="1.00" fill="none"/>
<path d="M88.50 687.19 H93.80" stroke="#000" stroke-opacity="0.55" stroke-width="1.00" fill="none"/>
<path d="M88.50 683.81 H93.80" stroke="#000" stroke-opacity="0.55" stroke-width="1.00" fill="none"/>
<path d="M88.50 681.04 H93.80" stroke="#000" stroke-opacity="0.55" stroke-width="1.00" fill="none"/>
<path d="M88.50 678.71 H93.80" stroke="#000" stroke-opacity="0.55" stroke-width="1.00" fill="none"/>
<path d="M88.50 676.68 H93.80" stroke="#000" stroke-opacity="0.55" stroke-width="1.00" fill="none"/>
<path d="M88.50 674.90 H93.80" stroke="#000" stroke-opacity="0.55" stroke-width="1.00" fill="none"/>
<path d="M88.50 673.30 H98.90" stroke="#000" stroke-opacity="0.30" stroke-width="1.40" fill="none"/>
<path d="M88.50 662.79 H93.80" stroke="#000" stroke-opacity="0.55" stroke-width="1.00" fill="none"/>
<path d="M88.50 656.65 H93.80" stroke="#000" stroke-opacity="0.55" stroke-width="1.00" fill="none"/>
<path d="M88.50 652.29 H93.80" stroke="#000" stroke-opacity="0.55" stroke-width="1.00" fill="none"/>
<path d="M88.50 648.91 H93.80" stroke="#000" stroke-opacity="0.55" stroke-width="1.00" fill="none"/>
<path d="M88.50 646.14 H93.80" stroke="#000" stroke-opacity="0.55" stroke-width="1.00" fill="none"/>
<path d="M88.50 643.81 H93.80" stroke="#000" stroke-opacity="0.55" stroke-width="1.00" fill="none"/>
<path d="M88.50 641.78 H93.80" stroke="#000" stroke-opacity="0.55" stroke-width="1.00" fill="none"/>
<path d="M88.50 640.00 H93.80" stroke="#000" stroke-opacity="0.55" stroke-width="1.00" fill="none"/>
<path d="M88.50 638.40 H98.90" stroke="#000" stroke-opacity="0.30" stroke-width="1.40" fill="none"/>
<path d="M88.50 627.89 H93.80" stroke="#000" stroke-opacity="0.55" stroke-width="1.00" fill="none"/>
<path d="M88.50 621.75 H93.80" stroke="#000" stroke-opacity="0.55" stroke-width="1.00" fill="none"/>
<path d="M88.50 617.39 H93.80" stroke="#000" stroke-opacity="0.55" stroke-width="1.00" fill="none"/>
<path d="M88.50 614.01 H93.80" stroke="#000" stroke-opacity="0.55" stroke-width="1.00" fill="none"/>
<path d="M88.50 611.24 H93.80" stroke="#000" stroke-opacity="0.55" stroke-width="1.00" fill="none"/>
<path d="M88.50 608.91 H93.80" stroke="#000" stroke-opacity="0.55" stroke-width="1.00" fill="none"/>
<path d="M88.50 606.88 H93.80" stroke="#000" stroke-opacity="0.55" stroke-width="1.00" fill="none"/>
<path d="M88.50 605.10 H93.80" stroke="#000" stroke-opacity="0.55" stroke-width="1.00" fill="none"/>
<path d="M88.50 603.50 H98.90" stroke="#000" stroke-opacity="0.30" stroke-width="1.40" fill="none"/>
<path d="M88.50 592.99 H93.80" stroke="#000" stroke-opacity="0.55" stroke-width="1.00" fill="none"/>
<path d="M88.50 586.85 H93.80" stroke="#000" stroke-opacity="0.55" stroke-width="1.00" fill="none"/>
<path d="M88.50 582.49 H93.80" stroke="#000" stroke-opacity="0.55" stroke-width="1.00" fill="none"/>
<path d="M88.50 579.11 H93.80" stroke="#000" stroke-opacity="0.55" stroke-width="1.00" fill="none"/>
<path d="M88.50 576.34 H93.80" stroke="#000" stroke-opacity="0.55" stroke-width="1.00" fill="none"/>
<path d="M88.50 574.01 H93.80" stroke="#000" stroke-opacity="0.55" stroke-width="1.00" fill="none"/>
<path d="M88.50 571.98 H93.80" stroke="#000" stroke-opacity="0.55" stroke-width="1.00" fill="none"/>
<path d="M88.50 570.20 H93.80" stroke="#000" stroke-opacity="0.55" stroke-width="1.00" fill="none"/>
<path d="M88.50 568.60 H98.90" stroke="#000" stroke-opacity="0.30" stroke-width="1.40" fill="none"/>
<path d="M88.50 558.09 H93.80" stroke="#000" stroke-opacity="0.55" stroke-width="1.00" fill="none"/>
<path d="M88.50 551.95 H93.80" stroke="#000" stroke-opacity="0.55" stroke-width="1.00" fill="none"/>
<path d="M88.50 547.59 H93.80" stroke="#000" stroke-opacity="0.55" stroke-width="1.00" fill="none"/>
<path d="M88.50 544.21 H93.80" stroke="#000" stroke-opacity="0.55" stroke-width="1.00" fill="none"/>
<path d="M88.50 541.44 H93.80" stroke="#000" stroke-opacity="0.55" stroke-width="1.00" fill="none"/>
<path d="M88.50 539.11 H93.80" stroke="#000" stroke-opacity="0.55" stroke-width="1.00" fill="none"/>
<path d="M88.50 537.08 H93.80" stroke="#000" stroke-opacity="0.55" stroke-width="1.00" fill="none"/>
<path d="M88.50 535.30 H93.80" stroke="#000" stroke-opacity="0.55" stroke-width="1.00" fill="none"/>
<path d="M88.50 533.70 H98.90" stroke="#000" stroke-opacity="0.30" stroke-width="1.40" fill="none"/>
<path d="M88.50 523.19 H93.80" stroke="#000" stroke-opacity="0.55" stroke-width="1.00" fill="none"/>
<path d="M88.50 517.05 H93.80" stroke="#000" stroke-opacity="0.55" stroke-width="1.00" fill="none"/>
<text transform="translate(147.78 721.78) scale(0.1522 0.1209)" font-size="100" font-weight="bold" fill="#000">20</text>
<text transform="translate(222.55 721.78) scale(0.1474 0.1209)" font-size="100" font-weight="bold" fill="#000">40</text>
<text transform="translate(189.09 741.03) scale(0.2052 0.1702)" font-size="100" font-weight="bold" fill="#000">tan</text>
<text transform="translate(216.52 741.20) scale(0.2634 0.1714)" font-size="100"  fill="#000">β</text>
<text transform="translate(59.49 537.92) scale(0.1511 0.1254)" font-size="100" font-weight="bold" fill="#000">10</text>
<text transform="translate(78.32 531.85) scale(0.1190 0.0909)" font-size="100" font-weight="bold" fill="#000">2</text>
<text transform="translate(59.49 572.82) scale(0.1511 0.1254)" font-size="100" font-weight="bold" fill="#000">10</text>
<text transform="translate(67.20 607.65) scale(0.1378 0.1246)" font-size="100" font-weight="bold" fill="#000">1</text>
<text transform="translate(54.27 642.58) scale(0.1534 0.1239)" font-size="100" font-weight="bold" fill="#000">10</text>
<text transform="translate(74.58 634.37) scale(0.1308 0.1667)" font-size="100" font-weight="bold" fill="#000">-</text>
<text transform="translate(78.59 633.30) scale(0.1135 0.0985)" font-size="100" font-weight="bold" fill="#000">1</text>
<text transform="translate(54.27 677.48) scale(0.1534 0.1239)" font-size="100" font-weight="bold" fill="#000">10</text>
<text transform="translate(74.58 669.27) scale(0.1308 0.1667)" font-size="100" font-weight="bold" fill="#000">-</text>
<text transform="translate(78.40 668.20) scale(0.1238 0.0970)" font-size="100" font-weight="bold" fill="#000">2</text>
<text transform="translate(54.27 712.38) scale(0.1534 0.1239)" font-size="100" font-weight="bold" fill="#000">10</text>
<text transform="translate(74.58 704.17) scale(0.1308 0.1667)" font-size="100" font-weight="bold" fill="#000">-</text>
<text transform="translate(78.42 703.00) scale(0.1209 0.0955)" font-size="100" font-weight="bold" fill="#000">3</text>
<rect x="318.38" y="517.20" width="141.20" height="191.00" fill="none" stroke="#000" stroke-opacity="0.5" stroke-width="0.9"/>
<path d="M318.38 517.20 V708.20" fill="none" stroke="#000" stroke-opacity="0.35" stroke-width="1.15"/>
<path d="M318.38 708.20 H459.58" fill="none" stroke="#000" stroke-opacity="0.3" stroke-width="1.0"/>
<path d="M329.53 703.70 V708.20" stroke="#000" stroke-opacity="0.42" stroke-width="1.00" fill="none"/>
<path d="M348.11 703.70 V708.20" stroke="#000" stroke-opacity="0.42" stroke-width="1.00" fill="none"/>
<path d="M366.69 703.70 V708.20" stroke="#000" stroke-opacity="0.42" stroke-width="1.00" fill="none"/>
<path d="M385.26 699.40 V708.20" stroke="#000" stroke-opacity="0.55" stroke-width="1.10" fill="none"/>
<path d="M403.84 703.70 V708.20" stroke="#000" stroke-opacity="0.42" stroke-width="1.00" fill="none"/>
<path d="M422.42 703.70 V708.20" stroke="#000" stroke-opacity="0.42" stroke-width="1.00" fill="none"/>
<path d="M441.00 703.70 V708.20" stroke="#000" stroke-opacity="0.42" stroke-width="1.00" fill="none"/>
<path d="M459.58 699.40 V708.20" stroke="#000" stroke-opacity="0.55" stroke-width="1.10" fill="none"/>
<path d="M318.38 708.20 H328.78" stroke="#000" stroke-opacity="0.30" stroke-width="1.40" fill="none"/>
<path d="M318.38 697.69 H323.68" stroke="#000" stroke-opacity="0.55" stroke-width="1.00" fill="none"/>
<path d="M318.38 691.55 H323.68" stroke="#000" stroke-opacity="0.55" stroke-width="1.00" fill="none"/>
<path d="M318.38 687.19 H323.68" stroke="#000" stroke-opacity="0.55" stroke-width="1.00" fill="none"/>
<path d="M318.38 683.81 H323.68" stroke="#000" stroke-opacity="0.55" stroke-width="1.00" fill="none"/>
<path d="M318.38 681.04 H323.68" stroke="#000" stroke-opacity="0.55" stroke-width="1.00" fill="none"/>
<path d="M318.38 678.71 H323.68" stroke="#000" stroke-opacity="0.55" stroke-width="1.00" fill="none"/>
<path d="M318.38 676.68 H323.68" stroke="#000" stroke-opacity="0.55" stroke-width="1.00" fill="none"/>
<path d="M318.38 674.90 H323.68" stroke="#000" stroke-opacity="0.55" stroke-width="1.00" fill="none"/>
<path d="M318.38 673.30 H328.78" stroke="#000" stroke-opacity="0.30" stroke-width="1.40" fill="none"/>
<path d="M318.38 662.79 H323.68" stroke="#000" stroke-opacity="0.55" stroke-width="1.00" fill="none"/>
<path d="M318.38 656.65 H323.68" stroke="#000" stroke-opacity="0.55" stroke-width="1.00" fill="none"/>
<path d="M318.38 652.29 H323.68" stroke="#000" stroke-opacity="0.55" stroke-width="1.00" fill="none"/>
<path d="M318.38 648.91 H323.68" stroke="#000" stroke-opacity="0.55" stroke-width="1.00" fill="none"/>
<path d="M318.38 646.14 H323.68" stroke="#000" stroke-opacity="0.55" stroke-width="1.00" fill="none"/>
<path d="M318.38 643.81 H323.68" stroke="#000" stroke-opacity="0.55" stroke-width="1.00" fill="none"/>
<path d="M318.38 641.78 H323.68" stroke="#000" stroke-opacity="0.55" stroke-width="1.00" fill="none"/>
<path d="M318.38 640.00 H323.68" stroke="#000" stroke-opacity="0.55" stroke-width="1.00" fill="none"/>
<path d="M318.38 638.40 H328.78" stroke="#000" stroke-opacity="0.30" stroke-width="1.40" fill="none"/>
<path d="M318.38 627.89 H323.68" stroke="#000" stroke-opacity="0.55" stroke-width="1.00" fill="none"/>
<path d="M318.38 621.75 H323.68" stroke="#000" stroke-opacity="0.55" stroke-width="1.00" fill="none"/>
<path d="M318.38 617.39 H323.68" stroke="#000" stroke-opacity="0.55" stroke-width="1.00" fill="none"/>
<path d="M318.38 614.01 H323.68" stroke="#000" stroke-opacity="0.55" stroke-width="1.00" fill="none"/>
<path d="M318.38 611.24 H323.68" stroke="#000" stroke-opacity="0.55" stroke-width="1.00" fill="none"/>
<path d="M318.38 608.91 H323.68" stroke="#000" stroke-opacity="0.55" stroke-width="1.00" fill="none"/>
<path d="M318.38 606.88 H323.68" stroke="#000" stroke-opacity="0.55" stroke-width="1.00" fill="none"/>
<path d="M318.38 605.10 H323.68" stroke="#000" stroke-opacity="0.55" stroke-width="1.00" fill="none"/>
<path d="M318.38 603.50 H328.78" stroke="#000" stroke-opacity="0.30" stroke-width="1.40" fill="none"/>
<path d="M318.38 592.99 H323.68" stroke="#000" stroke-opacity="0.55" stroke-width="1.00" fill="none"/>
<path d="M318.38 586.85 H323.68" stroke="#000" stroke-opacity="0.55" stroke-width="1.00" fill="none"/>
<path d="M318.38 582.49 H323.68" stroke="#000" stroke-opacity="0.55" stroke-width="1.00" fill="none"/>
<path d="M318.38 579.11 H323.68" stroke="#000" stroke-opacity="0.55" stroke-width="1.00" fill="none"/>
<path d="M318.38 576.34 H323.68" stroke="#000" stroke-opacity="0.55" stroke-width="1.00" fill="none"/>
<path d="M318.38 574.01 H323.68" stroke="#000" stroke-opacity="0.55" stroke-width="1.00" fill="none"/>
<path d="M318.38 571.98 H323.68" stroke="#000" stroke-opacity="0.55" stroke-width="1.00" fill="none"/>
<path d="M318.38 570.20 H323.68" stroke="#000" stroke-opacity="0.55" stroke-width="1.00" fill="none"/>
<path d="M318.38 568.60 H328.78" stroke="#000" stroke-opacity="0.30" stroke-width="1.40" fill="none"/>
<path d="M318.38 558.09 H323.68" stroke="#000" stroke-opacity="0.55" stroke-width="1.00" fill="none"/>
<path d="M318.38 551.95 H323.68" stroke="#000" stroke-opacity="0.55" stroke-width="1.00" fill="none"/>
<path d="M318.38 547.59 H323.68" stroke="#000" stroke-opacity="0.55" stroke-width="1.00" fill="none"/>
<path d="M318.38 544.21 H323.68" stroke="#000" stroke-opacity="0.55" stroke-width="1.00" fill="none"/>
<path d="M318.38 541.44 H323.68" stroke="#000" stroke-opacity="0.55" stroke-width="1.00" fill="none"/>
<path d="M318.38 539.11 H323.68" stroke="#000" stroke-opacity="0.55" stroke-width="1.00" fill="none"/>
<path d="M318.38 537.08 H323.68" stroke="#000" stroke-opacity="0.55" stroke-width="1.00" fill="none"/>
<path d="M318.38 535.30 H323.68" stroke="#000" stroke-opacity="0.55" stroke-width="1.00" fill="none"/>
<path d="M318.38 533.70 H328.78" stroke="#000" stroke-opacity="0.30" stroke-width="1.40" fill="none"/>
<path d="M318.38 523.19 H323.68" stroke="#000" stroke-opacity="0.55" stroke-width="1.00" fill="none"/>
<path d="M318.38 517.05 H323.68" stroke="#000" stroke-opacity="0.55" stroke-width="1.00" fill="none"/>
<text transform="translate(377.66 721.78) scale(0.1522 0.1209)" font-size="100" font-weight="bold" fill="#000">20</text>
<text transform="translate(452.43 721.78) scale(0.1474 0.1209)" font-size="100" font-weight="bold" fill="#000">40</text>
<text transform="translate(418.97 741.03) scale(0.2052 0.1702)" font-size="100" font-weight="bold" fill="#000">tan</text>
<text transform="translate(446.40 741.20) scale(0.2634 0.1714)" font-size="100"  fill="#000">β</text>
<text transform="translate(289.37 537.92) scale(0.1511 0.1254)" font-size="100" font-weight="bold" fill="#000">10</text>
<text transform="translate(308.20 531.85) scale(0.1190 0.0909)" font-size="100" font-weight="bold" fill="#000">2</text>
<text transform="translate(289.37 572.82) scale(0.1511 0.1254)" font-size="100" font-weight="bold" fill="#000">10</text>
<text transform="translate(297.08 607.65) scale(0.1378 0.1246)" font-size="100" font-weight="bold" fill="#000">1</text>
<text transform="translate(284.15 642.58) scale(0.1534 0.1239)" font-size="100" font-weight="bold" fill="#000">10</text>
<text transform="translate(304.46 634.37) scale(0.1308 0.1667)" font-size="100" font-weight="bold" fill="#000">-</text>
<text transform="translate(308.47 633.30) scale(0.1135 0.0985)" font-size="100" font-weight="bold" fill="#000">1</text>
<text transform="translate(284.15 677.48) scale(0.1534 0.1239)" font-size="100" font-weight="bold" fill="#000">10</text>
<text transform="translate(304.46 669.27) scale(0.1308 0.1667)" font-size="100" font-weight="bold" fill="#000">-</text>
<text transform="translate(308.28 668.20) scale(0.1238 0.0970)" font-size="100" font-weight="bold" fill="#000">2</text>
<text transform="translate(284.15 712.38) scale(0.1534 0.1239)" font-size="100" font-weight="bold" fill="#000">10</text>
<text transform="translate(304.46 704.17) scale(0.1308 0.1667)" font-size="100" font-weight="bold" fill="#000">-</text>
<text transform="translate(308.30 703.00) scale(0.1209 0.0955)" font-size="100" font-weight="bold" fill="#000">3</text>
<rect x="548.26" y="517.20" width="141.20" height="191.00" fill="none" stroke="#000" stroke-opacity="0.5" stroke-width="0.9"/>
<path d="M548.26 517.20 V708.20" fill="none" stroke="#000" stroke-opacity="0.35" stroke-width="1.15"/>
<path d="M548.26 708.20 H689.46" fill="none" stroke="#000" stroke-opacity="0.3" stroke-width="1.0"/>
<path d="M559.41 703.70 V708.20" stroke="#000" stroke-opacity="0.42" stroke-width="1.00" fill="none"/>
<path d="M577.99 703.70 V708.20" stroke="#000" stroke-opacity="0.42" stroke-width="1.00" fill="none"/>
<path d="M596.57 703.70 V708.20" stroke="#000" stroke-opacity="0.42" stroke-width="1.00" fill="none"/>
<path d="M615.14 699.40 V708.20" stroke="#000" stroke-opacity="0.55" stroke-width="1.10" fill="none"/>
<path d="M633.72 703.70 V708.20" stroke="#000" stroke-opacity="0.42" stroke-width="1.00" fill="none"/>
<path d="M652.30 703.70 V708.20" stroke="#000" stroke-opacity="0.42" stroke-width="1.00" fill="none"/>
<path d="M670.88 703.70 V708.20" stroke="#000" stroke-opacity="0.42" stroke-width="1.00" fill="none"/>
<path d="M689.46 699.40 V708.20" stroke="#000" stroke-opacity="0.55" stroke-width="1.10" fill="none"/>
<path d="M548.26 708.20 H558.66" stroke="#000" stroke-opacity="0.30" stroke-width="1.40" fill="none"/>
<path d="M548.26 693.99 H553.56" stroke="#000" stroke-opacity="0.55" stroke-width="1.00" fill="none"/>
<path d="M548.26 685.67 H553.56" stroke="#000" stroke-opacity="0.55" stroke-width="1.00" fill="none"/>
<path d="M548.26 679.78 H553.56" stroke="#000" stroke-opacity="0.55" stroke-width="1.00" fill="none"/>
<path d="M548.26 675.20 H553.56" stroke="#000" stroke-opacity="0.55" stroke-width="1.00" fill="none"/>
<path d="M548.26 671.46 H553.56" stroke="#000" stroke-opacity="0.55" stroke-width="1.00" fill="none"/>
<path d="M548.26 668.30 H553.56" stroke="#000" stroke-opacity="0.55" stroke-width="1.00" fill="none"/>
<path d="M548.26 665.56 H553.56" stroke="#000" stroke-opacity="0.55" stroke-width="1.00" fill="none"/>
<path d="M548.26 663.15 H553.56" stroke="#000" stroke-opacity="0.55" stroke-width="1.00" fill="none"/>
<path d="M548.26 660.99 H558.66" stroke="#000" stroke-opacity="0.30" stroke-width="1.40" fill="none"/>
<path d="M548.26 646.78 H553.56" stroke="#000" stroke-opacity="0.55" stroke-width="1.00" fill="none"/>
<path d="M548.26 638.46 H553.56" stroke="#000" stroke-opacity="0.55" stroke-width="1.00" fill="none"/>
<path d="M548.26 632.56 H553.56" stroke="#000" stroke-opacity="0.55" stroke-width="1.00" fill="none"/>
<path d="M548.26 627.99 H553.56" stroke="#000" stroke-opacity="0.55" stroke-width="1.00" fill="none"/>
<path d="M548.26 624.25 H553.56" stroke="#000" stroke-opacity="0.55" stroke-width="1.00" fill="none"/>
<path d="M548.26 621.09 H553.56" stroke="#000" stroke-opacity="0.55" stroke-width="1.00" fill="none"/>
<path d="M548.26 618.35 H553.56" stroke="#000" stroke-opacity="0.55" stroke-width="1.00" fill="none"/>
<path d="M548.26 615.94 H553.56" stroke="#000" stroke-opacity="0.55" stroke-width="1.00" fill="none"/>
<path d="M548.26 613.78 H558.66" stroke="#000" stroke-opacity="0.30" stroke-width="1.40" fill="none"/>
<path d="M548.26 599.56 H553.56" stroke="#000" stroke-opacity="0.55" stroke-width="1.00" fill="none"/>
<path d="M548.26 591.25 H553.56" stroke="#000" stroke-opacity="0.55" stroke-width="1.00" fill="none"/>
<path d="M548.26 585.35 H553.56" stroke="#000" stroke-opacity="0.55" stroke-width="1.00" fill="none"/>
<path d="M548.26 580.77 H553.56" stroke="#000" stroke-opacity="0.55" stroke-width="1.00" fill="none"/>
<path d="M548.26 577.04 H553.56" stroke="#000" stroke-opacity="0.55" stroke-width="1.00" fill="none"/>
<path d="M548.26 573.88 H553.56" stroke="#000" stroke-opacity="0.55" stroke-width="1.00" fill="none"/>
<path d="M548.26 571.14 H553.56" stroke="#000" stroke-opacity="0.55" stroke-width="1.00" fill="none"/>
<path d="M548.26 568.72 H553.56" stroke="#000" stroke-opacity="0.55" stroke-width="1.00" fill="none"/>
<path d="M548.26 566.56 H558.66" stroke="#000" stroke-opacity="0.30" stroke-width="1.40" fill="none"/>
<path d="M548.26 552.35 H553.56" stroke="#000" stroke-opacity="0.55" stroke-width="1.00" fill="none"/>
<path d="M548.26 544.04 H553.56" stroke="#000" stroke-opacity="0.55" stroke-width="1.00" fill="none"/>
<path d="M548.26 538.14 H553.56" stroke="#000" stroke-opacity="0.55" stroke-width="1.00" fill="none"/>
<path d="M548.26 533.56 H553.56" stroke="#000" stroke-opacity="0.55" stroke-width="1.00" fill="none"/>
<path d="M548.26 529.82 H553.56" stroke="#000" stroke-opacity="0.55" stroke-width="1.00" fill="none"/>
<path d="M548.26 526.66 H553.56" stroke="#000" stroke-opacity="0.55" stroke-width="1.00" fill="none"/>
<path d="M548.26 523.93 H553.56" stroke="#000" stroke-opacity="0.55" stroke-width="1.00" fill="none"/>
<path d="M548.26 521.51 H553.56" stroke="#000" stroke-opacity="0.55" stroke-width="1.00" fill="none"/>
<path d="M548.26 519.35 H558.66" stroke="#000" stroke-opacity="0.30" stroke-width="1.40" fill="none"/>
<text transform="translate(607.54 721.78) scale(0.1522 0.1209)" font-size="100" font-weight="bold" fill="#000">20</text>
<text transform="translate(682.31 721.78) scale(0.1474 0.1209)" font-size="100" font-weight="bold" fill="#000">40</text>
<text transform="translate(648.85 741.03) scale(0.2052 0.1702)" font-size="100" font-weight="bold" fill="#000">tan</text>
<text transform="translate(676.28 741.20) scale(0.2634 0.1714)" font-size="100"  fill="#000">β</text>
<text transform="translate(526.96 523.50) scale(0.1378 0.1246)" font-size="100" font-weight="bold" fill="#000">1</text>
<text transform="translate(514.03 570.74) scale(0.1534 0.1239)" font-size="100" font-weight="bold" fill="#000">10</text>
<text transform="translate(534.34 562.53) scale(0.1308 0.1667)" font-size="100" font-weight="bold" fill="#000">-</text>
<text transform="translate(538.35 561.46) scale(0.1135 0.0985)" font-size="100" font-weight="bold" fill="#000">1</text>
<text transform="translate(514.03 617.95) scale(0.1534 0.1239)" font-size="100" font-weight="bold" fill="#000">10</text>
<text transform="translate(534.34 609.74) scale(0.1308 0.1667)" font-size="100" font-weight="bold" fill="#000">-</text>
<text transform="translate(538.16 608.68) scale(0.1238 0.0970)" font-size="100" font-weight="bold" fill="#000">2</text>
<text transform="translate(514.03 665.16) scale(0.1534 0.1239)" font-size="100" font-weight="bold" fill="#000">10</text>
<text transform="translate(534.34 656.95) scale(0.1308 0.1667)" font-size="100" font-weight="bold" fill="#000">-</text>
<text transform="translate(538.18 655.79) scale(0.1209 0.0955)" font-size="100" font-weight="bold" fill="#000">3</text>
<text transform="translate(514.03 712.38) scale(0.1534 0.1239)" font-size="100" font-weight="bold" fill="#000">10</text>
<text transform="translate(534.34 704.17) scale(0.1308 0.1667)" font-size="100" font-weight="bold" fill="#000">-</text>
<text transform="translate(538.55 703.10) scale(0.1106 0.0985)" font-size="100" font-weight="bold" fill="#000">4</text>
<path d="M61.40 252.25 h37.7" stroke="#000000" stroke-width="1.0" fill="none"/>
<text transform="translate(101.70 256.47) scale(0.2250 0.1292)" font-size="100" font-weight="bold" fill="#000000">:</text>
<text transform="translate(113.22 256.80) scale(0.1925 0.1477)" font-size="100"  fill="#000000" stroke="#000000" stroke-width="1.0">Φ</text>
<text transform="translate(127.75 261.10) scale(0.1189 0.1031)" font-size="100" font-weight="bold" fill="#000000">1</text>
<path d="M154.40 252.25 h37.7" stroke="#ff0000" stroke-width="1.0" fill="none"/>
<text transform="translate(194.70 256.47) scale(0.2250 0.1292)" font-size="100" font-weight="bold" fill="#ff0000">:</text>
<text transform="translate(206.22 256.80) scale(0.1925 0.1477)" font-size="100"  fill="#ff0000" stroke="#ff0000" stroke-width="1.0">Φ</text>
<text transform="translate(220.55 261.10) scale(0.1381 0.1015)" font-size="100" font-weight="bold" fill="#ff0000">2</text>
<path d="M247.60 252.25 h37.7" stroke="#0000ff" stroke-width="1.0" fill="none"/>
<text transform="translate(287.90 256.47) scale(0.2250 0.1292)" font-size="100" font-weight="bold" fill="#0000ff">:</text>
<text transform="translate(299.42 256.80) scale(0.1925 0.1477)" font-size="100"  fill="#0000ff" stroke="#0000ff" stroke-width="1.0">Φ</text>
<text transform="translate(313.76 261.00) scale(0.1349 0.1000)" font-size="100" font-weight="bold" fill="#0000ff">3</text>
<path d="M378.80 252.25 h38.9" stroke="#000000" stroke-width="1.0" stroke-dasharray="9.8 4.75" fill="none"/>
<text transform="translate(421.70 256.47) scale(0.2250 0.1292)" font-size="100" font-weight="bold" fill="#000000">:</text>
<text transform="translate(432.72 256.80) scale(0.1925 0.1477)" font-size="100"  fill="#000000" stroke="#000000" stroke-width="1.0">Φ</text>
<text transform="translate(446.58 261.19) scale(0.1185 0.1060)" font-size="100" font-weight="bold" fill="#000000">Au</text>
<path d="M490.20 252.25 h38.9" stroke="#ff0000" stroke-width="1.0" stroke-dasharray="9.8 4.75" fill="none"/>
<text transform="translate(533.10 256.47) scale(0.2250 0.1292)" font-size="100" font-weight="bold" fill="#ff0000">:</text>
<text transform="translate(544.12 256.80) scale(0.1925 0.1477)" font-size="100"  fill="#ff0000" stroke="#ff0000" stroke-width="1.0">Φ</text>
<text transform="translate(557.98 261.20) scale(0.1167 0.1014)" font-size="100" font-weight="bold" fill="#ff0000">Ad</text>
<path d="M602.20 252.25 h38.9" stroke="#0000ff" stroke-width="1.0" stroke-dasharray="9.8 4.75" fill="none"/>
<text transform="translate(645.10 256.47) scale(0.2250 0.1292)" font-size="100" font-weight="bold" fill="#0000ff">:</text>
<text transform="translate(656.12 256.80) scale(0.1925 0.1477)" font-size="100"  fill="#0000ff" stroke="#0000ff" stroke-width="1.0">Φ</text>
<text transform="translate(669.97 261.19) scale(0.1301 0.1060)" font-size="100" font-weight="bold" fill="#0000ff">Ae</text>
<path d="M602.20 232.05 h38.9" stroke="#ff00ff" stroke-width="1.0" stroke-dasharray="9.8 4.75" fill="none"/>
<text transform="translate(645.10 236.27) scale(0.2250 0.1292)" font-size="100" font-weight="bold" fill="#ff00ff">:</text>
<text transform="translate(655.74 236.26) scale(0.2128 0.1366)" font-size="100"  fill="#ff00ff">θ</text>
<path d="M657.20 225.90 l3.7 -3.6 l3.7 3.6" stroke="#ff00ff" stroke-width="0.9" fill="none"/>
<text transform="translate(39.30 276.36) rotate(-90) scale(0.1600 0.2130)" font-size="100" font-weight="bold">]</text>
<text transform="translate(24.00 293.72) rotate(-90) scale(0.1128 0.1430)" font-size="100" font-weight="bold">EXP</text>
<text transform="translate(46.00 294.67) rotate(-90) scale(0.1040 0.1580)" font-size="100" font-weight="bold">Tl</text>
<text transform="translate(39.30 305.72) rotate(-90) scale(0.1600 0.2130)" font-size="100" font-weight="bold">d</text>
<text transform="translate(39.30 313.62) rotate(-90) scale(0.1600 0.2130)" font-size="100" font-weight="bold">/</text>
<text transform="translate(46.00 327.75) rotate(-90) scale(0.1040 0.1580)" font-size="100" font-weight="bold">Tl</text>
<text transform="translate(39.30 338.25) rotate(-90) scale(0.1600 0.2130)" font-size="100" font-weight="bold">d</text>
<text transform="translate(39.30 346.61) rotate(-90) scale(0.1600 0.2130)" font-size="100" font-weight="bold">[</text>
<text transform="translate(39.00 353.89) rotate(-90) scale(0.1600 0.2300)" font-size="100" font-weight="bold">|</text>
<text transform="translate(46.10 365.07) rotate(-90) scale(0.1420 0.1620)" font-size="100">α</text>
<text transform="translate(39.30 375.82) rotate(-90) scale(0.1600 0.2130)" font-size="100" font-weight="bold">E</text>
<text transform="translate(39.00 382.75) rotate(-90) scale(0.1600 0.2300)" font-size="100" font-weight="bold">|</text>
<text transform="translate(269.10 269.66) rotate(-90) scale(0.1600 0.2130)" font-size="100" font-weight="bold">]</text>
<text transform="translate(253.80 287.02) rotate(-90) scale(0.1128 0.1430)" font-size="100" font-weight="bold">EXP</text>
<text transform="translate(275.80 284.70) rotate(-90) scale(0.1130 0.1580)" font-size="100" font-weight="bold">n</text>
<text transform="translate(269.10 294.16) rotate(-90) scale(0.1600 0.2130)" font-size="100" font-weight="bold">d</text>
<text transform="translate(269.10 301.86) rotate(-90) scale(0.1600 0.2130)" font-size="100" font-weight="bold">/</text>
<text transform="translate(265.20 339.10) rotate(-90) scale(0.1150 0.1450)" font-size="100" font-weight="bold">(QCD)</text>
<text transform="translate(275.80 345.34) rotate(-90) scale(0.1130 0.1580)" font-size="100" font-weight="bold">n</text>
<text transform="translate(269.10 355.40) rotate(-90) scale(0.1600 0.2130)" font-size="100" font-weight="bold">d</text>
<text transform="translate(269.10 363.26) rotate(-90) scale(0.1600 0.2130)" font-size="100" font-weight="bold">[</text>
<text transform="translate(268.80 371.29) rotate(-90) scale(0.1600 0.2300)" font-size="100" font-weight="bold">|</text>
<text transform="translate(275.90 382.42) rotate(-90) scale(0.1420 0.1620)" font-size="100">α</text>
<text transform="translate(269.10 393.87) rotate(-90) scale(0.1600 0.2130)" font-size="100" font-weight="bold">E</text>
<text transform="translate(268.80 400.60) rotate(-90) scale(0.1600 0.2300)" font-size="100" font-weight="bold">|</text>
<text transform="translate(498.90 276.06) rotate(-90) scale(0.1600 0.2130)" font-size="100" font-weight="bold">]</text>
<text transform="translate(483.60 293.42) rotate(-90) scale(0.1128 0.1430)" font-size="100" font-weight="bold">EXP</text>
<text transform="translate(505.60 298.65) rotate(-90) scale(0.1130 0.1580)" font-size="100" font-weight="bold">Hg</text>
<text transform="translate(498.90 309.12) rotate(-90) scale(0.1600 0.2130)" font-size="100" font-weight="bold">d</text>
<text transform="translate(498.90 316.72) rotate(-90) scale(0.1600 0.2130)" font-size="100" font-weight="bold">/</text>
<text transform="translate(505.60 334.94) rotate(-90) scale(0.1130 0.1580)" font-size="100" font-weight="bold">Hg</text>
<text transform="translate(498.90 345.21) rotate(-90) scale(0.1600 0.2130)" font-size="100" font-weight="bold">d</text>
<text transform="translate(498.90 354.07) rotate(-90) scale(0.1600 0.2130)" font-size="100" font-weight="bold">[</text>
<text transform="translate(498.60 361.20) rotate(-90) scale(0.1600 0.2300)" font-size="100" font-weight="bold">|</text>
<text transform="translate(505.70 372.43) rotate(-90) scale(0.1420 0.1620)" font-size="100">α</text>
<text transform="translate(498.90 383.38) rotate(-90) scale(0.1600 0.2130)" font-size="100" font-weight="bold">E</text>
<text transform="translate(498.60 390.41) rotate(-90) scale(0.1600 0.2300)" font-size="100" font-weight="bold">|</text>
<text transform="translate(39.30 522.06) rotate(-90) scale(0.1600 0.2130)" font-size="100" font-weight="bold">]</text>
<text transform="translate(24.00 539.42) rotate(-90) scale(0.1128 0.1430)" font-size="100" font-weight="bold">EXP</text>
<text transform="translate(46.00 538.17) rotate(-90) scale(0.1130 0.1580)" font-size="100" font-weight="bold">D</text>
<text transform="translate(39.30 548.34) rotate(-90) scale(0.1600 0.2130)" font-size="100" font-weight="bold">d</text>
<text transform="translate(39.30 556.44) rotate(-90) scale(0.1600 0.2130)" font-size="100" font-weight="bold">/</text>
<text transform="translate(46.00 568.18) rotate(-90) scale(0.1130 0.1580)" font-size="100" font-weight="bold">D</text>
<text transform="translate(39.30 578.25) rotate(-90) scale(0.1600 0.2130)" font-size="100" font-weight="bold">d</text>
<text transform="translate(39.30 587.01) rotate(-90) scale(0.1600 0.2130)" font-size="100" font-weight="bold">[</text>
<text transform="translate(39.00 594.29) rotate(-90) scale(0.1600 0.2300)" font-size="100" font-weight="bold">|</text>
<text transform="translate(46.10 605.02) rotate(-90) scale(0.1420 0.1620)" font-size="100">α</text>
<text transform="translate(39.30 617.43) rotate(-90) scale(0.1600 0.2130)" font-size="100" font-weight="bold">O</text>
<text transform="translate(39.00 625.48) rotate(-90) scale(0.1600 0.2300)" font-size="100" font-weight="bold">|</text>
<text transform="translate(269.10 522.06) rotate(-90) scale(0.1600 0.2130)" font-size="100" font-weight="bold">]</text>
<text transform="translate(253.80 539.42) rotate(-90) scale(0.1128 0.1430)" font-size="100" font-weight="bold">EXP</text>
<text transform="translate(275.60 537.55) rotate(-90) scale(0.1390 0.1530)" font-size="100">μ</text>
<text transform="translate(269.10 546.24) rotate(-90) scale(0.1600 0.2130)" font-size="100" font-weight="bold">d</text>
<text transform="translate(269.10 554.34) rotate(-90) scale(0.1600 0.2130)" font-size="100" font-weight="bold">/</text>
<text transform="translate(275.60 565.55) rotate(-90) scale(0.1390 0.1530)" font-size="100">μ</text>
<text transform="translate(269.10 574.44) rotate(-90) scale(0.1600 0.2130)" font-size="100" font-weight="bold">d</text>
<text transform="translate(269.10 582.90) rotate(-90) scale(0.1600 0.2130)" font-size="100" font-weight="bold">[</text>
<text transform="translate(268.80 590.43) rotate(-90) scale(0.1600 0.2300)" font-size="100" font-weight="bold">|</text>
<text transform="translate(275.90 601.36) rotate(-90) scale(0.1420 0.1620)" font-size="100">α</text>
<text transform="translate(269.10 614.37) rotate(-90) scale(0.1600 0.2130)" font-size="100" font-weight="bold">O</text>
<text transform="translate(268.80 622.42) rotate(-90) scale(0.1600 0.2300)" font-size="100" font-weight="bold">|</text>
<text transform="translate(498.90 522.06) rotate(-90) scale(0.1600 0.2130)" font-size="100" font-weight="bold">]</text>
<text transform="translate(498.40 531.34) rotate(-90) scale(0.1600 0.2120)" font-size="100">)</text>
<text transform="translate(498.40 549.30) rotate(-90) scale(0.1600 0.2120)" font-size="100">%</text>
<text transform="translate(498.40 558.60) rotate(-90) scale(0.1600 0.2120)" font-size="100">(</text>
<text transform="translate(505.60 577.79) rotate(-90) scale(0.1130 0.1580)" font-size="100" font-weight="bold">CP</text>
<text transform="translate(498.90 589.75) rotate(-90) scale(0.1600 0.2130)" font-size="100" font-weight="bold">A</text>
<text transform="translate(498.90 598.78) rotate(-90) scale(0.1600 0.2130)" font-size="100" font-weight="bold">[</text>
<text transform="translate(498.60 606.26) rotate(-90) scale(0.1600 0.2300)" font-size="100" font-weight="bold">|</text>
<text transform="translate(505.70 616.85) rotate(-90) scale(0.1420 0.1620)" font-size="100">α</text>
<text transform="translate(498.90 629.86) rotate(-90) scale(0.1600 0.2130)" font-size="100" font-weight="bold">O</text>
<text transform="translate(498.60 637.86) rotate(-90) scale(0.1600 0.2300)" font-size="100" font-weight="bold">|</text>
</svg>
</body></html>
